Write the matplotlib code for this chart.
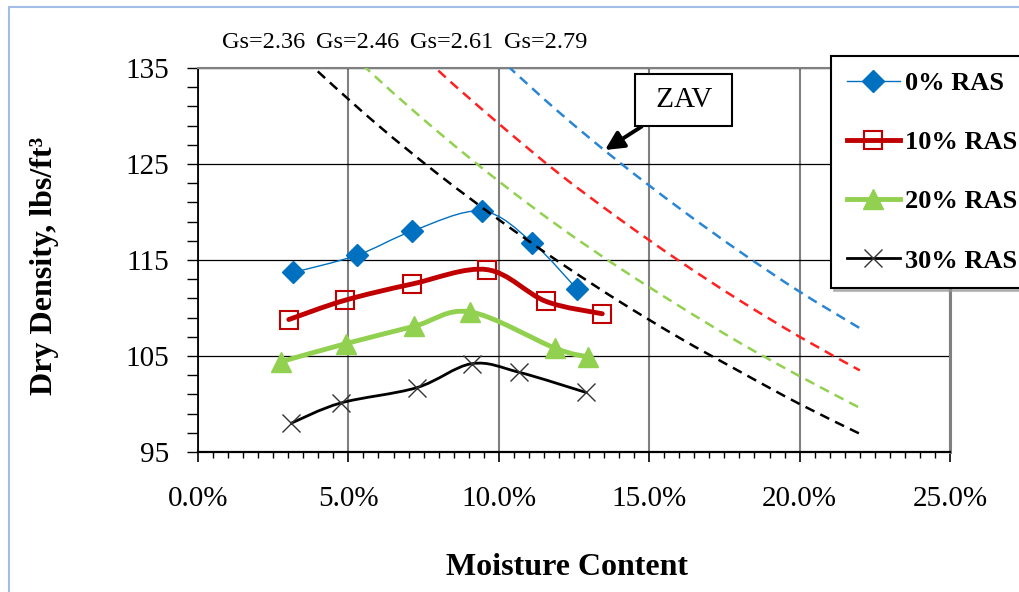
import matplotlib.pyplot as plt
import numpy as np
from matplotlib.path import Path
from matplotlib.patches import PathPatch, Rectangle
from matplotlib.lines import Line2D
from matplotlib.ticker import MultipleLocator, FuncFormatter

plt.rcParams['font.family'] = ['Liberation Serif', 'DejaVu Serif']

# Proctor results: moisture content (%) and dry density (pcf)
moist_0 = [3.17, 5.29, 7.11, 9.43, 11.12, 12.59]
dens_0 = [113.7, 115.5, 118.0, 120.1, 116.8, 112.0]
moist_10 = [3.02, 4.88, 7.12, 9.60, 11.56, 13.44]
dens_10 = [108.8, 110.8, 112.5, 114.0, 110.7, 109.4]
moist_20 = [2.75, 4.93, 7.19, 9.04, 11.88, 12.97]
dens_20 = [104.4, 106.3, 108.1, 109.6, 105.8, 104.9]
moist_30 = [3.10, 4.74, 7.27, 9.10, 10.68, 12.90]
dens_30 = [98.0, 100.1, 101.7, 104.2, 103.3, 101.2]
labels = ['0% RAS', '10% RAS', '20% RAS', '30% RAS']

# zero air voids lines
zav_moist = [2, 4, 6, 8, 10, 12, 14, 16, 18, 20, 22]
zav_236 = [140.6, 134.6, 129.0, 123.9, 119.2, 114.8, 110.7, 106.9, 103.4, 100.0, 96.9]
zav_246 = [146.3, 139.8, 133.8, 128.3, 123.2, 118.5, 114.2, 110.2, 106.4, 102.9, 99.6]
zav_261 = [154.8, 147.5, 140.8, 134.7, 129.2, 124.0, 119.3, 114.9, 110.8, 107.0, 103.5]
zav_279 = [164.9, 156.6, 149.1, 142.3, 136.1, 130.4, 125.2, 120.4, 115.9, 111.7, 107.9]
gs_values = [2.36, 2.46, 2.61, 2.79]

y_ticks = [95, 105, 115, 125, 135]


def smooth_path(x, y):
    # Catmull-Rom style bezier through the points (like a spreadsheet "smoothed line")
    pts = np.column_stack([x, y]).astype(float)
    n = len(pts)
    verts = [pts[0]]
    codes = [Path.MOVETO]
    for i in range(n - 1):
        p0 = pts[max(i - 1, 0)]
        p1 = pts[i]
        p2 = pts[i + 1]
        p3 = pts[min(i + 2, n - 1)]
        verts += [p1 + (p2 - p0) / 6, p2 - (p3 - p1) / 6, p2]
        codes += [Path.CURVE4] * 3
    return Path(verts, codes)


fig = plt.figure(figsize=(10.2, 5.92), dpi=100)
ax = fig.add_axes([0.1941, 0.2365, 0.7373, 0.6486])

styles = [
    dict(color='#0070C0', lw=1.0, marker='D', ms=11, mfc='#0070C0', mec='#0070C0', mew=1),
    dict(color='#C00000', lw=3.5, marker='s', ms=13, mfc='none', mec='#C00000', mew=1.5),
    dict(color='#92D050', lw=3.5, marker='^', ms=14, mfc='#92D050', mec='#92D050', mew=1),
    dict(color='black', lw=2.0, marker='x', ms=13, mfc='none', mec='#333333', mew=1.0),
]
series = [(moist_0, dens_0), (moist_10, dens_10), (moist_20, dens_20), (moist_30, dens_30)]

handles = []
for (mx, dy), st in zip(series, styles):
    ax.add_patch(PathPatch(smooth_path(mx, dy), fill=False, edgecolor=st['color'],
                           lw=st['lw'], zorder=3, capstyle='round'))
    ax.plot(mx, dy, ls='none', marker=st['marker'], ms=st['ms'], mfc=st['mfc'],
            mec=st['mec'], mew=st['mew'], zorder=4)
    handles.append(Line2D([], [], **st))

zav_colors = ['black', '#92D050', '#FF2020', '#2A86D4']
for dens, c in zip([zav_236, zav_246, zav_261, zav_279], zav_colors):
    ax.add_patch(PathPatch(smooth_path(zav_moist, dens), fill=False, edgecolor=c,
                           lw=1.8, linestyle=(0, (4, 2.6)), zorder=5))

ax.set_xlim(0, 25)
ax.set_ylim(95, 135)
ax.xaxis.set_major_locator(MultipleLocator(5))
ax.xaxis.set_minor_locator(MultipleLocator(0.5))
ax.set_yticks(y_ticks)
ax.set_yticks(np.arange(95, 136, 2), minor=True)
ax.xaxis.set_major_formatter(FuncFormatter(lambda v, p: f'{v:.1f}%'))

ax.set_axisbelow(True)
ax.grid(axis='x', which='major', color='#808080', lw=1.5)
ax.grid(axis='y', which='major', color='black', lw=0.9)

ax.spines['top'].set_color('#808080')
ax.spines['top'].set_linewidth(1.5)
ax.spines['right'].set_color('#808080')
ax.spines['right'].set_linewidth(2.2)
ax.spines['left'].set_linewidth(1.3)
ax.spines['bottom'].set_linewidth(1.6)

ax.tick_params(axis='y', which='both', direction='out', length=8, width=1.0,
               labelsize=21, pad=13)
ax.tick_params(axis='x', which='major', direction='out', length=7.5, width=1.2,
               labelsize=21, pad=17)
ax.tick_params(axis='x', which='minor', direction='out', length=4.5, width=1.0)

fig.text(0.0441, 0.5507, 'Dry Density, lbs/ft³', rotation=90, ha='center', va='center',
         fontsize=23, fontweight='bold')
fig.text(0.556, 0.041, 'Moisture Content', ha='center', va='center',
         fontsize=23, fontweight='bold')

# specific gravity labels for the ZAV lines
for i, g in enumerate(gs_values):
    fig.text((222 + 94 * i) / 1020, 1 - 43 / 592, f'Gs={g:.2f}', ha='left', va='center',
             fontsize=17.5)

ax.annotate(' ZAV ', xy=(13.53, 126.46), xytext=(16.14, 131.7), ha='center', va='center',
            fontsize=21, zorder=6,
            bbox=dict(boxstyle='square,pad=0.45', fc='white', ec='black', lw=1.5),
            arrowprops=dict(arrowstyle='-|>', color='black', lw=2.8, mutation_scale=28,
                            shrinkA=0, shrinkB=0))

top = 1 - 56 / 592
leg = fig.legend(handles, labels, loc='upper left', bbox_to_anchor=(831 / 1020, top, 0.2, 0),
                 bbox_transform=fig.transFigure, mode='expand', fancybox=False,
                 shadow=dict(color='#999999', alpha=0.6),
                 edgecolor='black', framealpha=1,
                 prop=dict(family='Liberation Serif', weight='bold', size=19),
                 handlelength=2.0, handletextpad=0.2, labelspacing=1.35, borderpad=0.6,
                 borderaxespad=0)
leg.get_frame().set_linewidth(1.5)

# outer chart border
fig.add_artist(Rectangle((9.5 / 1020, -0.05), 1.5, 1.039, transform=fig.transFigure,
                         fill=False, ec='#A4BCE8', lw=1.5))

fig.savefig('out.png', dpi=100)
